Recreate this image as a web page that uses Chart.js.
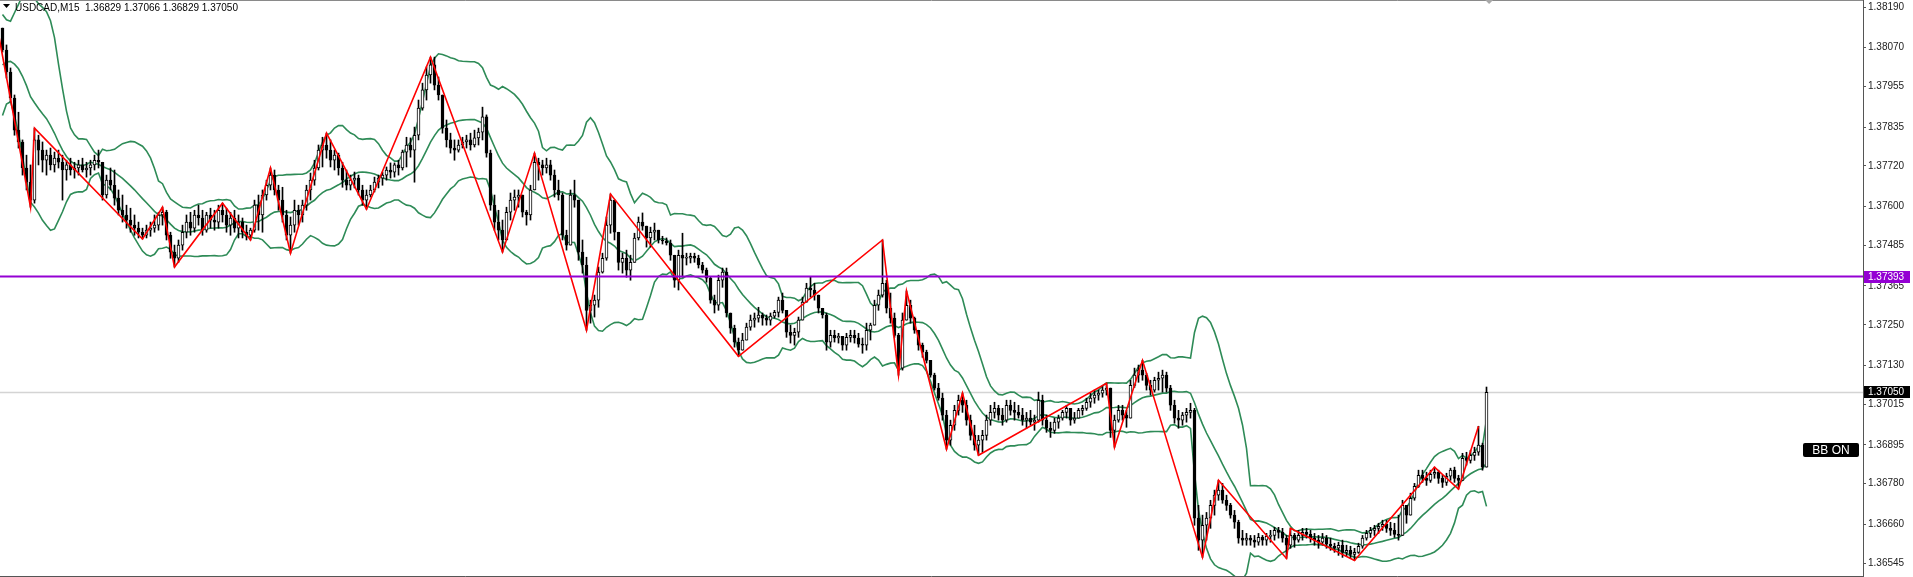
<!DOCTYPE html>
<html>
<head>
<meta charset="utf-8">
<script src="https://cdn.jsdelivr.net/npm/chart.js@4.4.1/dist/chart.umd.min.js"></script>
<style>
  html, body { margin: 0; padding: 0; background: #fff; }
  #wrap { width: 1913px; height: 577px; }
</style>
</head>
<body>
<div id="wrap"><canvas id="chart" width="1913" height="577"></canvas></div>
<script>
// USDCAD M15
const symbol = 'USDCAD,M15';
const lastOHLC = ['1.36829', '1.37066', '1.36829', '1.37050'];

// closes before the first visible bar (off screen), estimated from where the bands start
const earlierCloses = [1.37862, 1.37900, 1.37945, 1.37998, 1.38048, 1.38087, 1.38107, 1.38069, 1.38019, 1.37974,
    1.37968, 1.38027, 1.38087, 1.38128];

const closes = [
    1.38063, 1.37998, 1.37921, 1.37826, 1.37791, 1.37714, 1.37672, 1.37619, 1.37797, 1.37767,
    1.37737, 1.37752, 1.37723, 1.37743, 1.37731, 1.37708, 1.37723, 1.37708, 1.37714, 1.37723,
    1.37708, 1.37714, 1.37723, 1.37737, 1.37731, 1.37634, 1.37678, 1.37663, 1.37625, 1.37589,
    1.37575, 1.37560, 1.37545, 1.37536, 1.37524, 1.37515, 1.37530, 1.37536, 1.37545, 1.37575,
    1.37583, 1.37515, 1.37465, 1.37447, 1.37486, 1.37524, 1.37554, 1.37536, 1.37575, 1.37566,
    1.37530, 1.37575, 1.37560, 1.37554, 1.37589, 1.37575, 1.37545, 1.37566, 1.37536, 1.37554,
    1.37524, 1.37515, 1.37530, 1.37604, 1.37575, 1.37634, 1.37663, 1.37693, 1.37649, 1.37619,
    1.37575, 1.37515, 1.37545, 1.37589, 1.37575, 1.37604, 1.37649, 1.37678, 1.37714, 1.37767,
    1.37782, 1.37767, 1.37737, 1.37752, 1.37714, 1.37678, 1.37663, 1.37678, 1.37684, 1.37649,
    1.37619, 1.37634, 1.37649, 1.37672, 1.37684, 1.37693, 1.37708, 1.37702, 1.37723, 1.37714,
    1.37761, 1.37782, 1.37767, 1.37811, 1.37891, 1.37945, 1.37989, 1.38019, 1.37959, 1.37930,
    1.37832, 1.37797, 1.37773, 1.37767, 1.37782, 1.37791, 1.37797, 1.37782, 1.37803, 1.37820,
    1.37865, 1.37758, 1.37604, 1.37554, 1.37530, 1.37501, 1.37583, 1.37619, 1.37628, 1.37634,
    1.37583, 1.37575, 1.37649, 1.37731, 1.37723, 1.37714, 1.37723, 1.37693, 1.37649, 1.37634,
    1.37515, 1.37486, 1.37634, 1.37619, 1.37465, 1.37427, 1.37293, 1.37308, 1.37323, 1.37406,
    1.37447, 1.37545, 1.37619, 1.37524, 1.37435, 1.37447, 1.37412, 1.37435, 1.37507, 1.37554,
    1.37542, 1.37507, 1.37524, 1.37530, 1.37501, 1.37498, 1.37492, 1.37456, 1.37382, 1.37456,
    1.37447, 1.37447, 1.37453, 1.37447, 1.37427, 1.37412, 1.37388, 1.37323, 1.37308, 1.37382,
    1.37406, 1.37285, 1.37240, 1.37199, 1.37175, 1.37205, 1.37243, 1.37264, 1.37270, 1.37279,
    1.37270, 1.37264, 1.37276, 1.37287, 1.37323, 1.37293, 1.37228, 1.37219, 1.37228, 1.37264,
    1.37317, 1.37359, 1.37353, 1.37338, 1.37299, 1.37279, 1.37199, 1.37219, 1.37211, 1.37216,
    1.37190, 1.37213, 1.37219, 1.37211, 1.37193, 1.37190, 1.37234, 1.37249, 1.37308, 1.37338,
    1.37373, 1.37299, 1.37270, 1.37219, 1.37122, 1.37264, 1.37308, 1.37270, 1.37234, 1.37190,
    1.37169, 1.37145, 1.37101, 1.37063, 1.37033, 1.36983, 1.36909, 1.36953, 1.36997, 1.37027,
    1.37012, 1.36968, 1.36923, 1.36894, 1.36909, 1.36923, 1.36968, 1.36991, 1.37003, 1.36983,
    1.36968, 1.37012, 1.36997, 1.36991, 1.36983, 1.36968, 1.36974, 1.36962, 1.36968, 1.37027,
    1.36968, 1.36944, 1.36938, 1.36962, 1.36974, 1.36991, 1.37003, 1.36968, 1.36974, 1.36997,
    1.37003, 1.37021, 1.37033, 1.37042, 1.37048, 1.37057, 1.37063, 1.36938, 1.36968, 1.36997,
    1.36983, 1.36974, 1.37071, 1.37101, 1.37116, 1.37101, 1.37071, 1.37057, 1.37086, 1.37092,
    1.37101, 1.37063, 1.37012, 1.36974, 1.36968, 1.36983, 1.36991, 1.36997, 1.36678, 1.36613,
    1.36657, 1.36678, 1.36716, 1.36746, 1.36761, 1.36731, 1.36716, 1.36687, 1.36666, 1.36619,
    1.36613, 1.36619, 1.36613, 1.36607, 1.36621, 1.36613, 1.36624, 1.36627, 1.36642, 1.36636,
    1.36619, 1.36598, 1.36627, 1.36613, 1.36627, 1.36636, 1.36630, 1.36619, 1.36613, 1.36607,
    1.36619, 1.36601, 1.36595, 1.36589, 1.36598, 1.36577, 1.36583, 1.36571, 1.36577, 1.36595,
    1.36619, 1.36633, 1.36642, 1.36648, 1.36654, 1.36660, 1.36648, 1.36642, 1.36630, 1.36627,
    1.36716, 1.36687, 1.36737, 1.36772, 1.36805, 1.36796, 1.36790, 1.36808, 1.36814, 1.36796,
    1.36784, 1.36802, 1.36820, 1.36796, 1.36790, 1.36855, 1.36849, 1.36864, 1.36873, 1.36894,
    1.36829, 1.37050
];

const highs = [
    1.38128, 1.38078, 1.38010, 1.37930, 1.37879, 1.37797, 1.37752, 1.37723, 1.37832, 1.37811,
    1.37791, 1.37767, 1.37773, 1.37761, 1.37767, 1.37752, 1.37737, 1.37743, 1.37731, 1.37737,
    1.37743, 1.37731, 1.37737, 1.37752, 1.37767, 1.37731, 1.37693, 1.37714, 1.37708, 1.37649,
    1.37634, 1.37604, 1.37595, 1.37575, 1.37554, 1.37536, 1.37545, 1.37554, 1.37575, 1.37583,
    1.37598, 1.37589, 1.37524, 1.37486, 1.37501, 1.37545, 1.37575, 1.37583, 1.37589, 1.37604,
    1.37589, 1.37583, 1.37595, 1.37589, 1.37604, 1.37610, 1.37595, 1.37583, 1.37589, 1.37575,
    1.37566, 1.37545, 1.37536, 1.37619, 1.37634, 1.37649, 1.37678, 1.37714, 1.37708, 1.37663,
    1.37657, 1.37589, 1.37569, 1.37619, 1.37604, 1.37619, 1.37663, 1.37699, 1.37737, 1.37782,
    1.37805, 1.37817, 1.37797, 1.37767, 1.37758, 1.37731, 1.37708, 1.37693, 1.37702, 1.37693,
    1.37663, 1.37649, 1.37663, 1.37687, 1.37693, 1.37702, 1.37717, 1.37729, 1.37729, 1.37737,
    1.37767, 1.37805, 1.37803, 1.37835, 1.37915, 1.37965, 1.38013, 1.38042, 1.38042, 1.37983,
    1.37930, 1.37856, 1.37817, 1.37797, 1.37797, 1.37805, 1.37811, 1.37817, 1.37826, 1.37832,
    1.37894, 1.37871, 1.37767, 1.37634, 1.37589, 1.37560, 1.37598, 1.37640, 1.37649, 1.37649,
    1.37628, 1.37589, 1.37663, 1.37758, 1.37743, 1.37737, 1.37743, 1.37737, 1.37708, 1.37678,
    1.37640, 1.37530, 1.37649, 1.37678, 1.37619, 1.37501, 1.37450, 1.37323, 1.37338, 1.37421,
    1.37462, 1.37569, 1.37637, 1.37619, 1.37521, 1.37462, 1.37471, 1.37456, 1.37521, 1.37569,
    1.37581, 1.37539, 1.37539, 1.37551, 1.37530, 1.37512, 1.37507, 1.37501, 1.37456, 1.37471,
    1.37521, 1.37462, 1.37462, 1.37462, 1.37456, 1.37435, 1.37418, 1.37391, 1.37338, 1.37397,
    1.37418, 1.37418, 1.37285, 1.37249, 1.37211, 1.37225, 1.37255, 1.37279, 1.37285, 1.37302,
    1.37285, 1.37279, 1.37285, 1.37293, 1.37332, 1.37344, 1.37293, 1.37249, 1.37240, 1.37273,
    1.37332, 1.37373, 1.37391, 1.37373, 1.37338, 1.37299, 1.37285, 1.37234, 1.37234, 1.37225,
    1.37211, 1.37225, 1.37234, 1.37234, 1.37225, 1.37211, 1.37255, 1.37255, 1.37323, 1.37353,
    1.37501, 1.37382, 1.37344, 1.37285, 1.37225, 1.37285, 1.37350, 1.37323, 1.37273, 1.37234,
    1.37196, 1.37175, 1.37145, 1.37107, 1.37077, 1.37048, 1.36997, 1.36968, 1.37012, 1.37042,
    1.37048, 1.37027, 1.36983, 1.36953, 1.36923, 1.36938, 1.36983, 1.37012, 1.37021, 1.37012,
    1.37003, 1.37027, 1.37027, 1.37021, 1.37012, 1.37003, 1.36991, 1.36997, 1.36983, 1.37051,
    1.37042, 1.36983, 1.36962, 1.36974, 1.36983, 1.36997, 1.37012, 1.36997, 1.36991, 1.37003,
    1.37012, 1.37033, 1.37048, 1.37057, 1.37057, 1.37068, 1.37077, 1.37063, 1.36983, 1.37012,
    1.37012, 1.36997, 1.37086, 1.37122, 1.37131, 1.37145, 1.37107, 1.37086, 1.37095, 1.37110,
    1.37116, 1.37110, 1.37071, 1.37027, 1.36997, 1.36991, 1.37003, 1.37018, 1.37003, 1.36716,
    1.36687, 1.36695, 1.36731, 1.36761, 1.36790, 1.36781, 1.36746, 1.36722, 1.36701, 1.36672,
    1.36642, 1.36633, 1.36627, 1.36627, 1.36633, 1.36627, 1.36633, 1.36642, 1.36651, 1.36651,
    1.36648, 1.36627, 1.36648, 1.36633, 1.36642, 1.36648, 1.36648, 1.36642, 1.36633, 1.36627,
    1.36633, 1.36627, 1.36619, 1.36604, 1.36607, 1.36613, 1.36598, 1.36595, 1.36589, 1.36604,
    1.36627, 1.36642, 1.36651, 1.36657, 1.36663, 1.36672, 1.36672, 1.36666, 1.36663, 1.36687,
    1.36731, 1.36716, 1.36752, 1.36781, 1.36820, 1.36820, 1.36814, 1.36820, 1.36829, 1.36820,
    1.36805, 1.36811, 1.36826, 1.36829, 1.36805, 1.36870, 1.36873, 1.36879, 1.36888, 1.36950,
    1.36900, 1.37066
];

const lows = [
    1.38057, 1.37980, 1.37909, 1.37811, 1.37773, 1.37693, 1.37649, 1.37598, 1.37610, 1.37723,
    1.37702, 1.37693, 1.37708, 1.37702, 1.37714, 1.37619, 1.37678, 1.37693, 1.37684, 1.37693,
    1.37702, 1.37687, 1.37693, 1.37708, 1.37714, 1.37619, 1.37625, 1.37649, 1.37604, 1.37575,
    1.37554, 1.37536, 1.37524, 1.37515, 1.37507, 1.37504, 1.37507, 1.37512, 1.37524, 1.37530,
    1.37545, 1.37501, 1.37447, 1.37421, 1.37435, 1.37471, 1.37507, 1.37515, 1.37524, 1.37545,
    1.37515, 1.37524, 1.37536, 1.37530, 1.37536, 1.37554, 1.37524, 1.37515, 1.37524, 1.37507,
    1.37507, 1.37501, 1.37501, 1.37524, 1.37530, 1.37524, 1.37619, 1.37649, 1.37634, 1.37589,
    1.37554, 1.37501, 1.37462, 1.37524, 1.37545, 1.37554, 1.37589, 1.37619, 1.37663, 1.37708,
    1.37717, 1.37743, 1.37717, 1.37708, 1.37693, 1.37657, 1.37649, 1.37649, 1.37655, 1.37634,
    1.37604, 1.37592, 1.37628, 1.37643, 1.37655, 1.37663, 1.37678, 1.37684, 1.37687, 1.37693,
    1.37708, 1.37717, 1.37746, 1.37672, 1.37797, 1.37885, 1.37915, 1.37965, 1.37945, 1.37915,
    1.37817, 1.37776, 1.37758, 1.37737, 1.37761, 1.37773, 1.37773, 1.37767, 1.37776, 1.37782,
    1.37797, 1.37746, 1.37589, 1.37530, 1.37501, 1.37465, 1.37501, 1.37560, 1.37589, 1.37598,
    1.37569, 1.37545, 1.37560, 1.37649, 1.37678, 1.37693, 1.37699, 1.37678, 1.37628, 1.37619,
    1.37501, 1.37471, 1.37486, 1.37598, 1.37441, 1.37403, 1.37234, 1.37255, 1.37273, 1.37302,
    1.37403, 1.37441, 1.37521, 1.37501, 1.37412, 1.37403, 1.37391, 1.37382, 1.37435, 1.37501,
    1.37530, 1.37480, 1.37480, 1.37501, 1.37492, 1.37489, 1.37486, 1.37441, 1.37361, 1.37353,
    1.37391, 1.37427, 1.37433, 1.37435, 1.37418, 1.37403, 1.37376, 1.37314, 1.37285, 1.37293,
    1.37361, 1.37273, 1.37225, 1.37184, 1.37157, 1.37175, 1.37205, 1.37234, 1.37243, 1.37258,
    1.37249, 1.37249, 1.37249, 1.37270, 1.37273, 1.37285, 1.37213, 1.37196, 1.37190, 1.37213,
    1.37264, 1.37317, 1.37332, 1.37323, 1.37285, 1.37270, 1.37175, 1.37184, 1.37199, 1.37196,
    1.37175, 1.37175, 1.37199, 1.37196, 1.37184, 1.37166, 1.37175, 1.37205, 1.37249, 1.37293,
    1.37332, 1.37285, 1.37255, 1.37213, 1.37101, 1.37116, 1.37264, 1.37255, 1.37225, 1.37175,
    1.37154, 1.37137, 1.37095, 1.37057, 1.37027, 1.36968, 1.36882, 1.36894, 1.36938, 1.36983,
    1.36991, 1.36953, 1.36909, 1.36879, 1.36864, 1.36873, 1.36909, 1.36953, 1.36974, 1.36968,
    1.36953, 1.36962, 1.36983, 1.36968, 1.36974, 1.36953, 1.36944, 1.36953, 1.36938, 1.36962,
    1.36953, 1.36932, 1.36917, 1.36929, 1.36944, 1.36968, 1.36974, 1.36953, 1.36959, 1.36974,
    1.36983, 1.36997, 1.37006, 1.37018, 1.37027, 1.37036, 1.37042, 1.36917, 1.36888, 1.36962,
    1.36968, 1.36947, 1.36974, 1.37065, 1.37080, 1.37086, 1.37057, 1.37042, 1.37051, 1.37057,
    1.37051, 1.37051, 1.36997, 1.36959, 1.36944, 1.36953, 1.36962, 1.36974, 1.36657, 1.36583,
    1.36562, 1.36613, 1.36648, 1.36687, 1.36731, 1.36722, 1.36701, 1.36678, 1.36648, 1.36604,
    1.36598, 1.36598, 1.36598, 1.36592, 1.36598, 1.36598, 1.36598, 1.36607, 1.36613, 1.36619,
    1.36607, 1.36559, 1.36589, 1.36592, 1.36607, 1.36613, 1.36619, 1.36607, 1.36598, 1.36589,
    1.36598, 1.36589, 1.36583, 1.36577, 1.36568, 1.36562, 1.36565, 1.36559, 1.36553, 1.36574,
    1.36589, 1.36613, 1.36621, 1.36627, 1.36633, 1.36642, 1.36636, 1.36627, 1.36621, 1.36613,
    1.36627, 1.36663, 1.36687, 1.36731, 1.36769, 1.36784, 1.36775, 1.36784, 1.36796, 1.36781,
    1.36769, 1.36775, 1.36790, 1.36784, 1.36764, 1.36790, 1.36835, 1.36841, 1.36849, 1.36864,
    1.36820, 1.36829
];

// zigzag pivots: bar index and price
const zigzagBars = [-1, 7, 8, 35, 40, 43, 55, 62, 67, 72, 81, 91, 107, 125, 133, 146, 152, 184, 220, 224,
    226, 236, 240, 244, 276, 278, 285, 300, 304, 321, 322, 338, 358, 364, 369];
const zigzagPrices = [1.38110, 1.37598, 1.37832, 1.37504, 1.37598, 1.37421, 1.37610, 1.37501, 1.37714, 1.37462,
    1.37817, 1.37592, 1.38042, 1.37465, 1.37758, 1.37234, 1.37637, 1.37157, 1.37501, 1.37101,
    1.37350, 1.36882, 1.37048, 1.36864, 1.37077, 1.36888, 1.37145, 1.36562, 1.36790, 1.36559,
    1.36648, 1.36553, 1.36829, 1.36764, 1.36950];

const levelPrice = 1.37393;
const bidPrice = 1.37050;
const priceTicks = [1.38190, 1.38070, 1.37955, 1.37835, 1.37720, 1.37600, 1.37485, 1.37365,
    1.37250, 1.37130, 1.37015, 1.36895, 1.36780, 1.36660, 1.36545];
const priceMin = 1.36504;
const priceMax = 1.38211;
const bbPeriod = 15;
const bbDeviation = 2;

// each bar opens at the previous close
const opens = closes.map((c, i) => i === 0 ? earlierCloses[earlierCloses.length - 1] : closes[i - 1]);

// bollinger bands from the closes
const history = earlierCloses.concat(closes);
const bbUpper = [], bbMiddle = [], bbLower = [];
closes.forEach((c, i) => {
    const start = i + earlierCloses.length + 1 - bbPeriod;
    const win = history.slice(start, start + bbPeriod);
    const mean = win.reduce((a, b) => a + b, 0) / bbPeriod;
    const sd = Math.sqrt(win.reduce((a, b) => a + (b - mean) * (b - mean), 0) / bbPeriod);
    bbMiddle.push({ x: i, y: mean });
    bbUpper.push({ x: i, y: mean + bbDeviation * sd });
    bbLower.push({ x: i, y: mean - bbDeviation * sd });
});

const bodies = closes.map((c, i) => ({ x: i, y: [opens[i], c] }));
const wicks = closes.map((c, i) => ({
    x: i,
    y: [Math.min(lows[i], opens[i], c), Math.max(highs[i], opens[i], c)]
}));
const zigzag = zigzagBars.map((b, i) => ({ x: b, y: zigzagPrices[i] }));

const xMin = -0.625;
const xMax = 465.125;
const green = 'rgb(46,139,87)';

const decor = {
    id: 'decor',
    beforeDraw(chart) {
        const ctx = chart.ctx;
        ctx.save();
        ctx.fillStyle = '#fff';
        ctx.fillRect(0, 0, chart.width, chart.height);
        ctx.restore();
    },
    afterDraw(chart) {
        const ctx = chart.ctx;
        const area = chart.chartArea;
        const y = chart.scales.y;
        const x = chart.scales.x;
        ctx.save();

        // frame
        ctx.strokeStyle = '#8a8a8a';
        ctx.lineWidth = 1;
        ctx.beginPath();
        ctx.moveTo(0, 0.5); ctx.lineTo(area.right, 0.5);
        ctx.stroke();
        ctx.strokeStyle = '#555';
        ctx.beginPath();
        ctx.moveTo(0, 576.5); ctx.lineTo(area.right, 576.5);
        ctx.stroke();

        // shift marker at the top
        const mx = x.getPixelForValue(closes.length - 0.35);
        ctx.fillStyle = '#a8a8a8';
        ctx.beginPath();
        ctx.moveTo(mx - 4, 0); ctx.lineTo(mx + 4, 0); ctx.lineTo(mx, 4);
        ctx.closePath();
        ctx.fill();

        // title
        ctx.fillStyle = '#000';
        ctx.beginPath();
        ctx.moveTo(3, 4); ctx.lineTo(10, 4); ctx.lineTo(6.5, 8);
        ctx.closePath();
        ctx.fill();
        ctx.font = '10px "Liberation Sans"';
        ctx.textBaseline = 'alphabetic';
        ctx.textAlign = 'left';
        ctx.fillText(symbol + '  ' + lastOHLC.join(' '), 15, 11);

        // price labels on the axis
        const tag = (price, bg, text) => {
            const py = Math.round(y.getPixelForValue(price));
            ctx.fillStyle = bg;
            ctx.fillRect(area.right + 1, py - 6, 46, 12);
            ctx.fillStyle = '#fff';
            ctx.font = '10px "Liberation Sans"';
            ctx.textBaseline = 'middle';
            ctx.fillText(text, area.right + 5, py + 0.5);
        };
        tag(levelPrice, '#9400d3', levelPrice.toFixed(5));
        tag(bidPrice, '#000', bidPrice.toFixed(5));

        // BB ON box
        ctx.fillStyle = '#000';
        ctx.beginPath();
        ctx.roundRect(1803, 443, 56, 14, 2);
        ctx.fill();
        ctx.fillStyle = '#fff';
        ctx.font = '12px "Liberation Sans"';
        ctx.textAlign = 'center';
        ctx.textBaseline = 'middle';
        ctx.fillText('BB ON', 1831, 450.5);

        ctx.restore();
    }
};

new Chart(document.getElementById('chart'), {
    type: 'bar',
    data: {
        datasets: [
            {
                type: 'line', label: 'level', data: [{ x: xMin, y: levelPrice }, { x: xMax, y: levelPrice }],
                borderColor: '#9400d3', borderWidth: 2.2, pointRadius: 0, order: 0
            },
            {
                type: 'line', label: 'zigzag', data: zigzag,
                borderColor: '#ff0000', borderWidth: 1.6, pointRadius: 0, tension: 0, order: 1
            },
            {
                label: 'bodies', data: bodies,
                backgroundColor: (c) => {
                    const i = c.dataIndex;
                    return closes[i] >= opens[i] ? '#ffffff' : '#000000';
                },
                borderColor: '#000', borderWidth: 1, borderSkipped: false,
                barThickness: 3, minBarLength: 1, grouped: false, order: 2
            },
            {
                label: 'wicks', data: wicks, backgroundColor: '#000',
                barThickness: 1, grouped: false, order: 3
            },
            {
                type: 'line', label: 'bb upper', data: bbUpper,
                borderColor: green, borderWidth: 1.6, pointRadius: 0, order: 4
            },
            {
                type: 'line', label: 'bb middle', data: bbMiddle,
                borderColor: green, borderWidth: 1.6, pointRadius: 0, order: 4
            },
            {
                type: 'line', label: 'bb lower', data: bbLower,
                borderColor: green, borderWidth: 1.6, pointRadius: 0, order: 4
            },
            {
                type: 'line', label: 'bid', data: [{ x: xMin, y: bidPrice }, { x: xMax, y: bidPrice }],
                borderColor: '#d4d4d4', borderWidth: 1.5, pointRadius: 0, order: 6
            }
        ]
    },
    options: {
        responsive: false,
        devicePixelRatio: 1,
        animation: false,
        layout: { padding: 0 },
        plugins: { legend: { display: false }, tooltip: { enabled: false } },
        scales: {
            x: {
                type: 'linear', display: false, offset: false,
                min: xMin, max: xMax
            },
            y: {
                position: 'right',
                min: priceMin,
                max: priceMax,
                afterBuildTicks: (scale) => {
                    scale.ticks = priceTicks.map(v => ({ value: v }));
                },
                afterFit: (scale) => {
                    scale.width = 50;
                    // let the plot use the full height, MT4 style
                    scale.paddingTop = 0;
                    scale.paddingBottom = 0;
                },
                border: { display: true, color: '#555', width: 1 },
                grid: { drawOnChartArea: false, drawTicks: true, tickLength: 3, color: '#555' },
                ticks: {
                    autoSkip: false,
                    padding: 2,
                    color: '#222',
                    font: { family: 'Liberation Sans', size: 10 },
                    callback: (v) => Number(v).toFixed(5)
                }
            }
        }
    },
    plugins: [decor]
});
</script>
</body>
</html>
